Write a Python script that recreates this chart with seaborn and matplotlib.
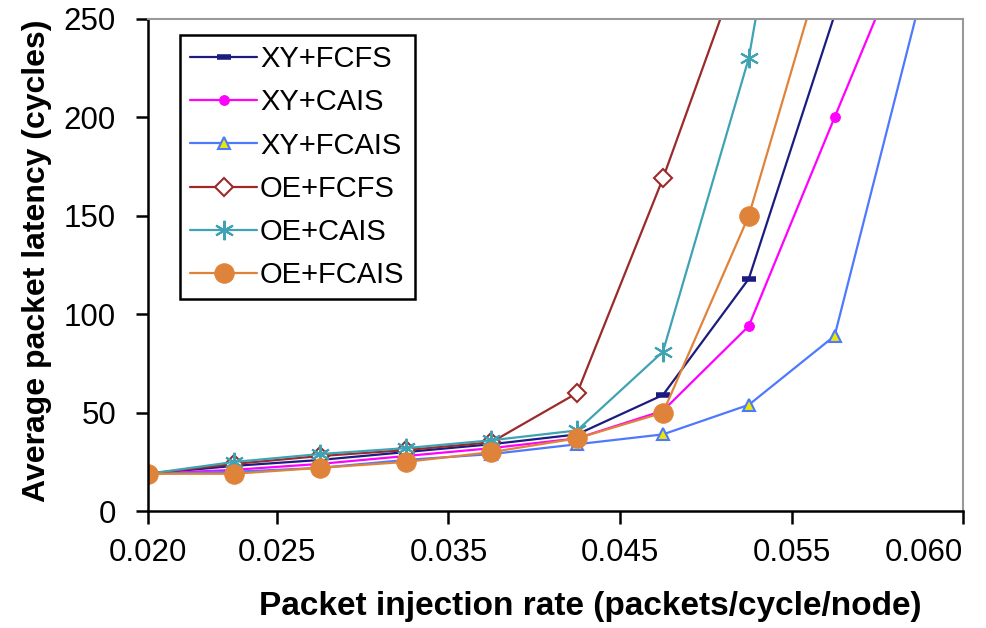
import numpy as np
import pandas as pd
import seaborn as sns
import matplotlib.pyplot as plt

# injection rate positions of the samples (axis runs 0.0175 .. 0.065)
rates = [0.0175, 0.0225, 0.0275, 0.0325, 0.0375, 0.0425, 0.0475, 0.0525, 0.0575, 0.0625]

xy_fcfs = [19, 23, 26, 30, 34, 39, 59, 118, 252]
xy_cais = [19, 21, 24, 28, 32, 37, 51, 94, 200, 305]
xy_fcais = [19, 20, 22, 26, 29, 34, 39, 54, 89, 260]
oe_fcfs = [19, 24, 28, 31, 35, 60, 169, 290]
oe_cais = [19, 25, 29, 32, 36, 41, 81, 230, 480]
oe_fcais = [19, 19, 22, 25, 30, 37, 50, 150, 298]

tick_pos = [0.0175, 0.025, 0.035, 0.045, 0.055, 0.065]
tick_labels = ['0.020', '0.025', '0.035', '0.045', '0.055', '0.060']

series = {
    'XY+FCFS': xy_fcfs,
    'XY+CAIS': xy_cais,
    'XY+FCAIS': xy_fcais,
    'OE+FCFS': oe_fcfs,
    'OE+CAIS': oe_cais,
    'OE+FCAIS': oe_fcais,
}

rows = []
for name, vals in series.items():
    for r, v in zip(rates, vals):
        rows.append({'rate': r, 'latency': v, 'scheme': name})
df = pd.DataFrame(rows)

styles = {
    'XY+FCFS': dict(color='#1c1c80', marker='_', markersize=10, markeredgewidth=4,
                    markeredgecolor='#1c1c80'),
    'XY+CAIS': dict(color='#ff00ff', marker='o', markersize=7, markeredgecolor='#ff00ff'),
    'XY+FCAIS': dict(color='#4d79ff', marker='^', markersize=8, markerfacecolor='#e8e800',
                     markeredgecolor='#4d79ff', markeredgewidth=1.5),
    'OE+FCFS': dict(color='#9b2a2a', marker='D', markersize=9, markerfacecolor='white',
                    markeredgecolor='#9b2a2a', markeredgewidth=1.5),
    'OE+CAIS': dict(color='#3fa3b4', marker=(6, 2, 0), markersize=14, markeredgewidth=1.5,
                    markeredgecolor='#3fa3b4'),
    'OE+FCAIS': dict(color='#e0833a', marker='o', markersize=14, markeredgecolor='#e0833a'),
}

sns.set_style('ticks')
plt.rcParams['font.family'] = ['Liberation Sans', 'DejaVu Sans']
plt.rcParams['text.color'] = 'black'
plt.rcParams['axes.labelcolor'] = 'black'
plt.rcParams['xtick.color'] = 'black'
plt.rcParams['ytick.color'] = 'black'

fig, ax = plt.subplots(figsize=(9.87, 6.28), dpi=100)
fig.subplots_adjust(left=0.150, right=0.976, top=0.970, bottom=0.186)

for name in series:
    sub = df[df['scheme'] == name]
    sns.lineplot(data=sub, x='rate', y='latency', ax=ax, label=name,
                 linewidth=1.6, **styles[name])

ax.set_xlim(0.0175, 0.065)
ax.set_ylim(0, 250)
ax.set_yticks([0, 50, 100, 150, 200, 250])
ax.set_xticks(tick_pos)
ax.set_xticklabels(tick_labels)
ax.tick_params(labelsize=22.5, length=9, width=1.8)
ax.tick_params(axis='y', pad=14)
ax.tick_params(axis='x', pad=10)
ax.get_xticklabels()[-1].set_ha('right')

for s in ['left', 'bottom']:
    ax.spines[s].set_color('black')
    ax.spines[s].set_linewidth(1.8)
for s in ['top', 'right']:
    ax.spines[s].set_visible(True)
    ax.spines[s].set_color('#999999')
    ax.spines[s].set_linewidth(1.5)

ax.set_xlabel('Packet injection rate (packets/cycle/node)', fontsize=24, fontweight='bold')
ax.set_ylabel('Average packet latency (cycles)', fontsize=23, fontweight='bold')
ax.xaxis.set_label_coords(0.542, -0.163)
ax.yaxis.set_label_coords(-0.118, 0.508)

leg = ax.legend(loc='upper left', bbox_to_anchor=(0.039, 0.967), borderaxespad=0,
                fontsize=21, frameon=True, fancybox=False, framealpha=1,
                edgecolor='black', handlelength=2.3, handletextpad=0.1,
                labelspacing=0.52, borderpad=0.35)
leg.get_frame().set_linewidth(1.8)

fig.savefig('out.png', dpi=100)
